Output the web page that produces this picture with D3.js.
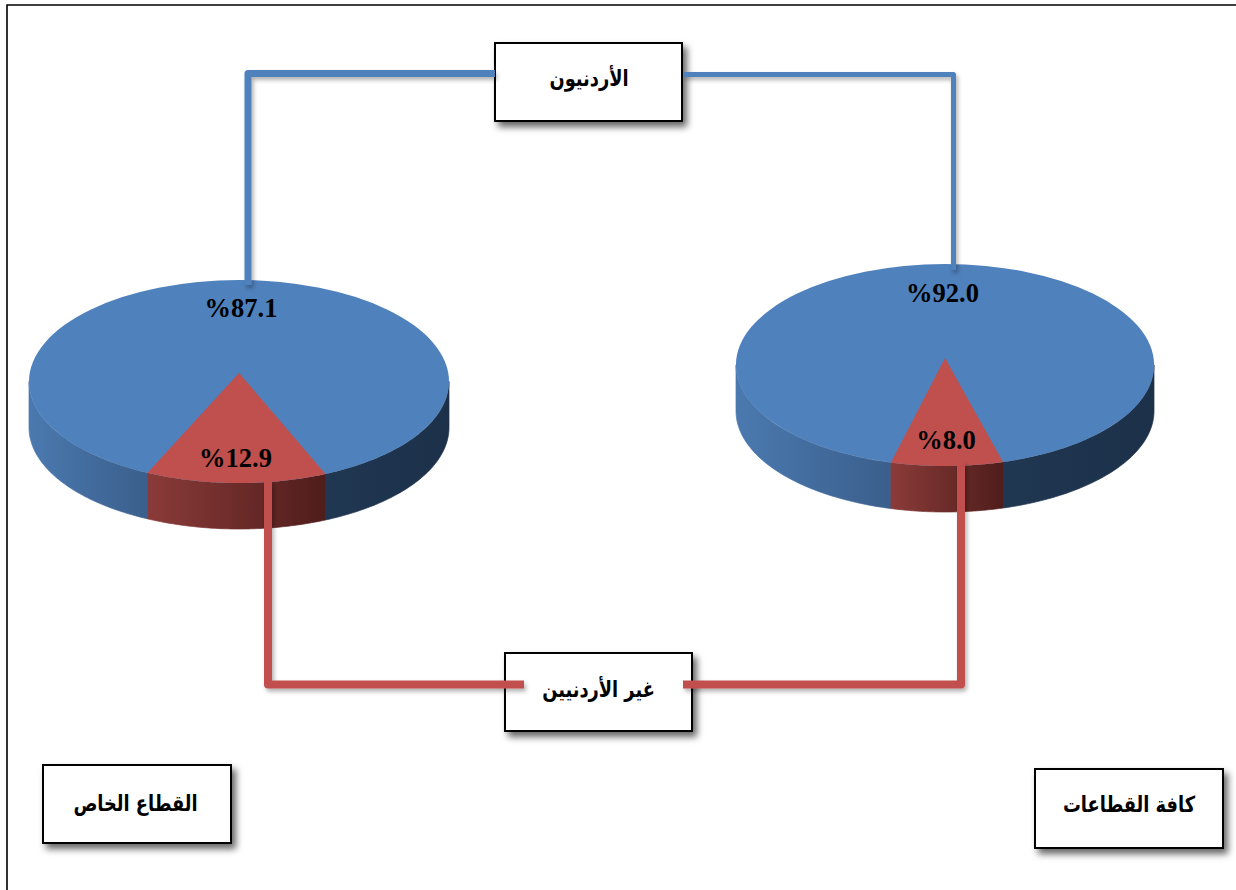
<!DOCTYPE html>
<html lang="ar">
<head>
<meta charset="utf-8">
<script src="https://cdn.jsdelivr.net/npm/d3@7"></script>
<style>
  body { margin: 0; background: #fff; }
  svg { display: block; }
  .pct { font-family: "Liberation Serif", serif; font-weight: bold; font-size: 26.5px; fill: #000; direction: ltr; unicode-bidi: bidi-override; }
  .box-label { font-family: "DejaVu Sans", serif; font-weight: bold; font-size: 22px; fill: #000; direction: rtl; }
</style>
</head>
<body>
<div id="chart"></div>
<script>
// Chart values
const sectors = ["القطاع الخاص", "كافة القطاعات"];
const groups = ["الأردنيون", "غير الأردنيين"];
const jordanian = [87.1, 92.0];
const nonJordanian = [12.9, 8.0];

const width = 1236;
const height = 890;

const blue = "#4f81bd";
const red = "#c0504d";

// Where each pie sits on the page
const pieLayout = [
  { cx: 239, cy: 381.5, rx: 210, ry: 101.5, apexY: 373, rot: 0.013, bluePos: [241, 317], redPos: [235.5, 467] },
  { cx: 945, cy: 365, rx: 209, ry: 101, apexY: 358, rot: -0.01, bluePos: [942.5, 302], redPos: [946, 449] }
];
const depth = 46;
const stretch = 1.08; // the 3D view widens the front slice a bit

const boxes = [
  { x: 495, y: 43, w: 187, h: 78, text: groups[0], tx: 589, ty: 86 },
  { x: 505, y: 653, w: 187, h: 78, text: groups[1], tx: 598.5, ty: 697 },
  { x: 43, y: 765, w: 188, h: 78, text: sectors[0], tx: 135.5, ty: 811 },
  { x: 1035, y: 769, w: 188, h: 79, text: sectors[1], tx: 1129, ty: 812 }
];
const labelSquash = 0.81;

const connectors = [
  { color: blue, w: 7, pts: [[495, 73.5], [248, 73.5], [248, 285]] },
  { color: blue, w: 5, pts: [[683, 74.5], [953.5, 74.5], [953.5, 270]] },
  { color: red, w: 8, pts: [[268, 481], [268, 684.5], [524, 684.5]] },
  { color: red, w: 8, pts: [[683, 684.5], [961, 684.5], [961, 462]] }
];

const svg = d3.select("#chart").append("svg")
  .attr("width", width)
  .attr("height", height);

const defs = svg.append("defs");

function addShadow(id, dx, dy, blur, opacity) {
  defs.append("filter")
    .attr("id", id)
    .attr("x", "-20%").attr("y", "-20%")
    .attr("width", "140%").attr("height", "150%")
    .append("feDropShadow")
    .attr("dx", dx).attr("dy", dy)
    .attr("stdDeviation", blur)
    .attr("flood-color", "#000")
    .attr("flood-opacity", opacity);
}
addShadow("boxShadow", 4, 5, 3.5, 0.6);
addShadow("lineShadow", 2, 3, 2, 0.3);

function addGradient(id, from, to) {
  const g = defs.append("linearGradient").attr("id", id);
  g.append("stop").attr("offset", "0%").attr("stop-color", from);
  g.append("stop").attr("offset", "100%").attr("stop-color", to);
}
addGradient("sideLeft", "#4b79af", "#3a5f8c");
addGradient("sideFront", "#8a3b39", "#4f1d1b");
addGradient("sideRight", "#203752", "#1c3049");

// Frame runs off the right and bottom of the picture
svg.append("path")
  .attr("d", d3.line()([[width, 5], [7, 5], [7, height]]))
  .attr("fill", "none")
  .attr("stroke", "#000")
  .attr("stroke-width", 1.6);

const arcGen = d3.arc();
const line = d3.line();
const pie = d3.pie().sort(null);

pieLayout.forEach(function (p, i) {
  const values = [jordanian[i], nonJordanian[i]];
  const share = nonJordanian[i] / 100;
  const slices = pie.startAngle(Math.PI + share * Math.PI)
    .endAngle(3 * Math.PI + share * Math.PI)(values);

  // red slice angles, turned to sit at the front
  const half = (slices[1].endAngle - slices[1].startAngle) / 2 * stretch;
  const a0 = Math.PI - half + p.rot;
  const a1 = Math.PI + half + p.rot;

  const rimPoint = function (a, dy) {
    return [p.cx + p.rx * Math.sin(a), p.cy - p.ry * Math.cos(a) + (dy || 0)];
  };
  const band = function (from, to) {
    const angles = d3.range(0, 61).map(function (k) { return from + (to - from) * k / 60; });
    const topEdge = angles.map(function (a) { return rimPoint(a); });
    const lowEdge = angles.slice().reverse().map(function (a) { return rimPoint(a, depth); });
    return line(topEdge.concat(lowEdge)) + "Z";
  };

  const g = svg.append("g").attr("class", "pie");

  // side wall, from the right edge round to the left edge
  [[Math.PI / 2, a0, "url(#sideRight)"], [a1, 3 * Math.PI / 2, "url(#sideLeft)"], [a0, a1, "url(#sideFront)"]]
    .forEach(function (s) {
      g.append("path")
        .attr("d", band(s[0], s[1]))
        .attr("fill", s[2])
        .attr("stroke", s[2])
        .attr("stroke-width", 0.7);
    });

  // top face
  g.append("path")
    .attr("transform", "translate(" + p.cx + "," + p.cy + ") scale(1," + (p.ry / p.rx) + ")")
    .attr("d", arcGen({ innerRadius: 0, outerRadius: p.rx, startAngle: 0, endAngle: 2 * Math.PI }))
    .attr("fill", blue);

  const rim = d3.range(0, 31).map(function (k) { return rimPoint(a0 + (a1 - a0) * k / 30); });
  g.append("path")
    .attr("d", line([[p.cx, p.apexY]].concat(rim)) + "Z")
    .attr("fill", red);
});

// Label boxes
const boxG = svg.selectAll("g.box").data(boxes).enter().append("g").attr("class", "box");
boxG.append("rect")
  .attr("x", function (d) { return d.x; })
  .attr("y", function (d) { return d.y; })
  .attr("width", function (d) { return d.w; })
  .attr("height", function (d) { return d.h; })
  .attr("fill", "#fff")
  .attr("stroke", "#000")
  .attr("stroke-width", 2)
  .attr("filter", "url(#boxShadow)");
boxG.append("text")
  .attr("class", "box-label")
  .attr("transform", function (d) { return "translate(" + d.tx + "," + d.ty + ") scale(" + labelSquash + ",1)"; })
  .attr("text-anchor", "middle")
  .text(function (d) { return d.text; });

// Connector lines
svg.selectAll("path.connector").data(connectors).enter().append("path")
  .attr("class", "connector")
  .attr("d", function (d) { return line(d.pts); })
  .attr("fill", "none")
  .attr("stroke", function (d) { return d.color; })
  .attr("stroke-width", function (d) { return d.w; })
  .attr("stroke-linejoin", "round")
  .attr("filter", "url(#lineShadow)");

// Percent labels
const fmt = function (v) { return "%" + d3.format(".1f")(v); };
pieLayout.forEach(function (p, i) {
  [[jordanian[i], p.bluePos], [nonJordanian[i], p.redPos]].forEach(function (l) {
    svg.append("text")
      .attr("class", "pct")
      .attr("x", l[1][0])
      .attr("y", l[1][1])
      .attr("text-anchor", "middle")
      .text(fmt(l[0]));
  });
});
</script>
</body>
</html>
